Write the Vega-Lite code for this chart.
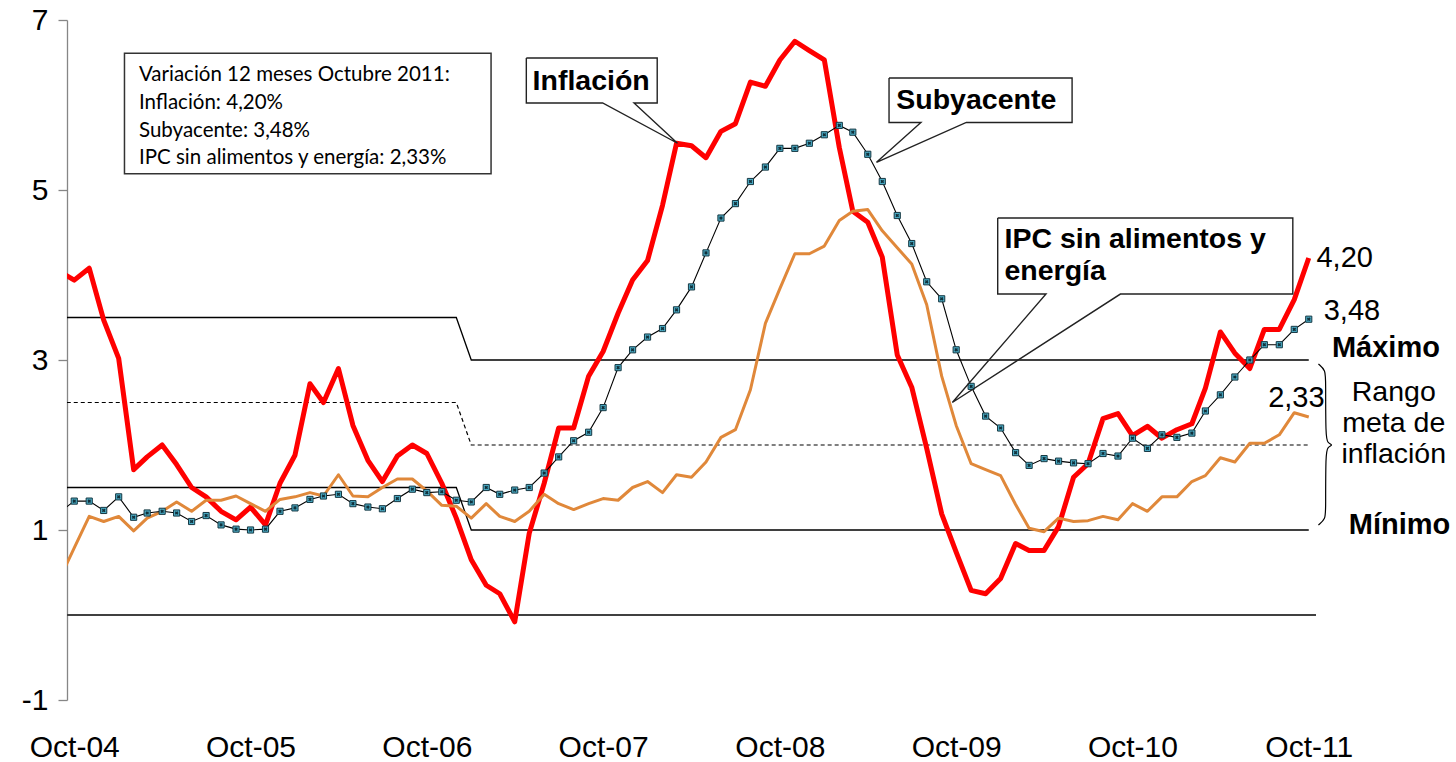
{
  "$schema": "https://vega.github.io/schema/vega-lite/v6.json",
  "width": 1249,
  "height": 680,
  "autosize": "none",
  "padding": {"left": 67, "top": 20, "right": 140, "bottom": 62},
  "background": "white",
  "config": {"view": {"stroke": null}, "axis": {"grid": false}},
  "datasets": {
    "serie": [
      {"fecha": "2004/09/01", "inf": 4.04, "sub": 1.21, "sae": 0.43},
      {"fecha": "2004/10/01", "inf": 3.94, "sub": 1.34, "sae": 0.79},
      {"fecha": "2004/11/01", "inf": 4.08, "sub": 1.34, "sae": 1.16},
      {"fecha": "2004/12/01", "inf": 3.47, "sub": 1.23, "sae": 1.10},
      {"fecha": "2005/01/01", "inf": 3.02, "sub": 1.39, "sae": 1.16},
      {"fecha": "2005/02/01", "inf": 1.71, "sub": 1.15, "sae": 0.99},
      {"fecha": "2005/03/01", "inf": 1.86, "sub": 1.20, "sae": 1.14},
      {"fecha": "2005/04/01", "inf": 2.00, "sub": 1.22, "sae": 1.22},
      {"fecha": "2005/05/01", "inf": 1.77, "sub": 1.20, "sae": 1.33},
      {"fecha": "2005/06/01", "inf": 1.50, "sub": 1.10, "sae": 1.22},
      {"fecha": "2005/07/01", "inf": 1.39, "sub": 1.17, "sae": 1.35},
      {"fecha": "2005/08/01", "inf": 1.22, "sub": 1.06, "sae": 1.35},
      {"fecha": "2005/09/01", "inf": 1.12, "sub": 1.01, "sae": 1.40},
      {"fecha": "2005/10/01", "inf": 1.27, "sub": 1.00, "sae": 1.31},
      {"fecha": "2005/11/01", "inf": 1.06, "sub": 1.01, "sae": 1.22},
      {"fecha": "2005/12/01", "inf": 1.55, "sub": 1.22, "sae": 1.36},
      {"fecha": "2006/01/01", "inf": 1.88, "sub": 1.26, "sae": 1.39},
      {"fecha": "2006/02/01", "inf": 2.72, "sub": 1.36, "sae": 1.44},
      {"fecha": "2006/03/01", "inf": 2.50, "sub": 1.40, "sae": 1.40},
      {"fecha": "2006/04/01", "inf": 2.90, "sub": 1.42, "sae": 1.65},
      {"fecha": "2006/05/01", "inf": 2.23, "sub": 1.31, "sae": 1.40},
      {"fecha": "2006/06/01", "inf": 1.82, "sub": 1.27, "sae": 1.39},
      {"fecha": "2006/07/01", "inf": 1.57, "sub": 1.25, "sae": 1.50},
      {"fecha": "2006/08/01", "inf": 1.87, "sub": 1.37, "sae": 1.60},
      {"fecha": "2006/09/01", "inf": 2.00, "sub": 1.48, "sae": 1.60},
      {"fecha": "2006/10/01", "inf": 1.90, "sub": 1.44, "sae": 1.46},
      {"fecha": "2006/11/01", "inf": 1.55, "sub": 1.45, "sae": 1.29},
      {"fecha": "2006/12/01", "inf": 1.14, "sub": 1.35, "sae": 1.28},
      {"fecha": "2007/01/01", "inf": 0.65, "sub": 1.33, "sae": 1.14},
      {"fecha": "2007/02/01", "inf": 0.35, "sub": 1.50, "sae": 1.31},
      {"fecha": "2007/03/01", "inf": 0.25, "sub": 1.42, "sae": 1.16},
      {"fecha": "2007/04/01", "inf": -0.08, "sub": 1.47, "sae": 1.10},
      {"fecha": "2007/05/01", "inf": 0.96, "sub": 1.50, "sae": 1.22},
      {"fecha": "2007/06/01", "inf": 1.55, "sub": 1.67, "sae": 1.42},
      {"fecha": "2007/07/01", "inf": 2.20, "sub": 1.86, "sae": 1.31},
      {"fecha": "2007/08/01", "inf": 2.20, "sub": 2.05, "sae": 1.24},
      {"fecha": "2007/09/01", "inf": 2.81, "sub": 2.15, "sae": 1.31},
      {"fecha": "2007/10/01", "inf": 3.10, "sub": 2.44, "sae": 1.37},
      {"fecha": "2007/11/01", "inf": 3.55, "sub": 2.91, "sae": 1.35},
      {"fecha": "2007/12/01", "inf": 3.94, "sub": 3.12, "sae": 1.50},
      {"fecha": "2008/01/01", "inf": 4.17, "sub": 3.27, "sae": 1.57},
      {"fecha": "2008/02/01", "inf": 4.82, "sub": 3.37, "sae": 1.44},
      {"fecha": "2008/03/01", "inf": 5.55, "sub": 3.59, "sae": 1.65},
      {"fecha": "2008/04/01", "inf": 5.52, "sub": 3.86, "sae": 1.62},
      {"fecha": "2008/05/01", "inf": 5.38, "sub": 4.26, "sae": 1.80},
      {"fecha": "2008/06/01", "inf": 5.69, "sub": 4.67, "sae": 2.09},
      {"fecha": "2008/07/01", "inf": 5.78, "sub": 4.84, "sae": 2.18},
      {"fecha": "2008/08/01", "inf": 6.27, "sub": 5.10, "sae": 2.65},
      {"fecha": "2008/09/01", "inf": 6.22, "sub": 5.27, "sae": 3.43},
      {"fecha": "2008/10/01", "inf": 6.53, "sub": 5.49, "sae": 3.84},
      {"fecha": "2008/11/01", "inf": 6.75, "sub": 5.49, "sae": 4.25},
      {"fecha": "2008/12/01", "inf": 6.64, "sub": 5.55, "sae": 4.25},
      {"fecha": "2009/01/01", "inf": 6.53, "sub": 5.65, "sae": 4.34},
      {"fecha": "2009/02/01", "inf": 5.50, "sub": 5.76, "sae": 4.64},
      {"fecha": "2009/03/01", "inf": 4.75, "sub": 5.68, "sae": 4.75},
      {"fecha": "2009/04/01", "inf": 4.62, "sub": 5.42, "sae": 4.77},
      {"fecha": "2009/05/01", "inf": 4.21, "sub": 5.10, "sae": 4.52},
      {"fecha": "2009/06/01", "inf": 3.06, "sub": 4.70, "sae": 4.32},
      {"fecha": "2009/07/01", "inf": 2.68, "sub": 4.37, "sae": 4.13},
      {"fecha": "2009/08/01", "inf": 1.96, "sub": 3.92, "sae": 3.65},
      {"fecha": "2009/09/01", "inf": 1.19, "sub": 3.72, "sae": 2.81},
      {"fecha": "2009/10/01", "inf": 0.74, "sub": 3.12, "sae": 2.23},
      {"fecha": "2009/11/01", "inf": 0.29, "sub": 2.69, "sae": 1.78},
      {"fecha": "2009/12/01", "inf": 0.25, "sub": 2.34, "sae": 1.71},
      {"fecha": "2010/01/01", "inf": 0.43, "sub": 2.20, "sae": 1.64},
      {"fecha": "2010/02/01", "inf": 0.84, "sub": 1.91, "sae": 1.30},
      {"fecha": "2010/03/01", "inf": 0.76, "sub": 1.76, "sae": 1.02},
      {"fecha": "2010/04/01", "inf": 0.76, "sub": 1.84, "sae": 0.98},
      {"fecha": "2010/05/01", "inf": 1.04, "sub": 1.81, "sae": 1.14},
      {"fecha": "2010/06/01", "inf": 1.62, "sub": 1.79, "sae": 1.10},
      {"fecha": "2010/07/01", "inf": 1.78, "sub": 1.78, "sae": 1.11},
      {"fecha": "2010/08/01", "inf": 2.31, "sub": 1.90, "sae": 1.16},
      {"fecha": "2010/09/01", "inf": 2.37, "sub": 1.87, "sae": 1.12},
      {"fecha": "2010/10/01", "inf": 2.11, "sub": 2.08, "sae": 1.31},
      {"fecha": "2010/11/01", "inf": 2.22, "sub": 1.96, "sae": 1.22},
      {"fecha": "2010/12/01", "inf": 2.08, "sub": 2.12, "sae": 1.39},
      {"fecha": "2011/01/01", "inf": 2.18, "sub": 2.09, "sae": 1.39},
      {"fecha": "2011/02/01", "inf": 2.25, "sub": 2.14, "sae": 1.57},
      {"fecha": "2011/03/01", "inf": 2.67, "sub": 2.40, "sae": 1.64},
      {"fecha": "2011/04/01", "inf": 3.33, "sub": 2.59, "sae": 1.85},
      {"fecha": "2011/05/01", "inf": 3.08, "sub": 2.80, "sae": 1.80},
      {"fecha": "2011/06/01", "inf": 2.90, "sub": 3.00, "sae": 2.02},
      {"fecha": "2011/07/01", "inf": 3.36, "sub": 3.18, "sae": 2.02},
      {"fecha": "2011/08/01", "inf": 3.36, "sub": 3.18, "sae": 2.12},
      {"fecha": "2011/09/01", "inf": 3.71, "sub": 3.36, "sae": 2.38},
      {"fecha": "2011/10/01", "inf": 4.20, "sub": 3.48, "sae": 2.33}
    ],
    "metas": [
      {"fecha": "2004/09/01", "maximo": 3.5, "meta": 2.5, "minimo": 1.5},
      {"fecha": "2006/12/01", "maximo": 3.5, "meta": 2.5, "minimo": 1.5},
      {"fecha": "2007/01/01", "maximo": 3.0, "meta": 2.0, "minimo": 1.0},
      {"fecha": "2011/10/01", "maximo": 3.0, "meta": 2.0, "minimo": 1.0}
    ],
    "leyenda": [
      {"x1": "2005/01/13", "x2": "2007/02/11", "y1": 6.61, "y2": 5.19}
    ],
    "cajas": [
      {"id": "inf", "x1": "2007/04/25", "x2": "2008/01/21", "y1": 6.553, "y2": 6.024},
      {"id": "sub", "x1": "2009/05/15", "x2": "2010/05/29", "y1": 6.318, "y2": 5.795},
      {"id": "sae", "x1": "2009/12/26", "x2": "2011/08/29", "y1": 4.671, "y2": 3.776}
    ],
    "contornos": [
      {"id": "inf", "k": 0, "fecha": "2007/04/25", "v": 6.553},
      {"id": "inf", "k": 1, "fecha": "2008/01/21", "v": 6.553},
      {"id": "inf", "k": 2, "fecha": "2008/01/21", "v": 6.024},
      {"id": "inf", "k": 3, "fecha": "2007/12/04", "v": 6.024},
      {"id": "inf", "k": 4, "fecha": "2008/03/03", "v": 5.55},
      {"id": "inf", "k": 5, "fecha": "2007/09/30", "v": 6.024},
      {"id": "inf", "k": 6, "fecha": "2007/04/25", "v": 6.024},
      {"id": "inf", "k": 7, "fecha": "2007/04/25", "v": 6.553},
      {"id": "sub", "k": 0, "fecha": "2009/05/15", "v": 6.318},
      {"id": "sub", "k": 1, "fecha": "2010/05/29", "v": 6.318},
      {"id": "sub", "k": 2, "fecha": "2010/05/29", "v": 5.795},
      {"id": "sub", "k": 3, "fecha": "2009/10/22", "v": 5.795},
      {"id": "sub", "k": 4, "fecha": "2009/04/19", "v": 5.326},
      {"id": "sub", "k": 5, "fecha": "2009/07/20", "v": 5.795},
      {"id": "sub", "k": 6, "fecha": "2009/05/15", "v": 5.795},
      {"id": "sub", "k": 7, "fecha": "2009/05/15", "v": 6.318},
      {"id": "sae", "k": 0, "fecha": "2009/12/26", "v": 4.671},
      {"id": "sae", "k": 1, "fecha": "2011/08/29", "v": 4.671},
      {"id": "sae", "k": 2, "fecha": "2011/08/29", "v": 3.776},
      {"id": "sae", "k": 3, "fecha": "2010/09/06", "v": 3.776},
      {"id": "sae", "k": 4, "fecha": "2009/09/23", "v": 2.50},
      {"id": "sae", "k": 5, "fecha": "2010/04/05", "v": 3.776},
      {"id": "sae", "k": 6, "fecha": "2009/12/26", "v": 3.776},
      {"id": "sae", "k": 7, "fecha": "2009/12/26", "v": 4.671}
    ],
    "txt_ley": [
      {"texto": "Variación 12 meses Octubre 2011:", "fecha": "2005/02/12", "v": 6.35},
      {"texto": "Inflación: 4,20%", "fecha": "2005/02/12", "v": 6.02},
      {"texto": "Subyacente: 3,48%", "fecha": "2005/02/12", "v": 5.69},
      {"texto": "IPC sin alimentos y energía: 2,33%", "fecha": "2005/02/12", "v": 5.38}
    ],
    "txt_call": [
      {"texto": "Inflación", "fecha": "2007/05/08", "v": 6.288},
      {"texto": "Subyacente", "fecha": "2009/05/30", "v": 6.059},
      {"texto": "IPC sin alimentos y", "fecha": "2010/01/09", "v": 4.424},
      {"texto": "energía", "fecha": "2010/01/09", "v": 4.047}
    ],
    "txt_val": [
      {"texto": "4,20", "fecha": "2011/10/17", "v": 4.2},
      {"texto": "3,48", "fecha": "2011/11/01", "v": 3.58},
      {"texto": "2,33", "fecha": "2011/07/09", "v": 2.553}
    ],
    "txt_rango": [
      {"texto": "Rango", "fecha": "2012/03/25", "v": 2.624},
      {"texto": "meta de", "fecha": "2012/03/25", "v": 2.259},
      {"texto": "inflación", "fecha": "2012/03/25", "v": 1.894}
    ],
    "txt_lim": [
      {"texto": "Máximo", "fecha": "2011/11/18", "v": 3.141},
      {"texto": "Mínimo", "fecha": "2011/12/23", "v": 1.059}
    ],
    "llave": [
      {"k": 0, "fecha": "2011/10/21", "v": 2.953},
      {"k": 1, "fecha": "2011/11/05", "v": 2.88},
      {"k": 2, "fecha": "2011/11/05", "v": 2.75},
      {"k": 3, "fecha": "2011/11/05", "v": 2.10},
      {"k": 4, "fecha": "2011/11/09", "v": 2.02},
      {"k": 5, "fecha": "2011/11/21", "v": 2.0},
      {"k": 6, "fecha": "2011/11/09", "v": 1.98},
      {"k": 7, "fecha": "2011/11/05", "v": 1.90},
      {"k": 8, "fecha": "2011/11/05", "v": 1.25},
      {"k": 9, "fecha": "2011/11/05", "v": 1.13},
      {"k": 10, "fecha": "2011/10/21", "v": 1.059}
    ]
  },
  "layer": [
    {
      "data": {"name": "metas"},
      "mark": {"type": "line", "color": "black", "strokeWidth": 1.3, "clip": true},
      "encoding": {
        "x": {
          "field": "fecha", "type": "temporal", "title": null,
          "scale": {"domain": [{"year": 2004, "month": 9, "date": 16}, {"year": 2011, "month": 10, "date": 16}]},
          "axis": {
            "values": [
              {"year": 2004, "month": 10, "date": 1}, {"year": 2005, "month": 10, "date": 1},
              {"year": 2006, "month": 10, "date": 1}, {"year": 2007, "month": 10, "date": 1},
              {"year": 2008, "month": 10, "date": 1}, {"year": 2009, "month": 10, "date": 1},
              {"year": 2010, "month": 10, "date": 1}, {"year": 2011, "month": 10, "date": 1}
            ],
            "format": "%b-%y", "domain": false, "ticks": false, "grid": false,
            "labelFont": "Liberation Sans", "labelFontSize": 30, "labelColor": "black",
            "labelPadding": 32, "labelFlush": false, "labelOverlap": false, "title": null
          }
        },
        "y": {
          "field": "maximo", "type": "quantitative", "title": null,
          "scale": {"domain": [-1, 7], "nice": false, "zero": false},
          "axis": {
            "values": [-1, 1, 3, 5, 7], "labelExpr": "'' + datum.value", "domain": true, "domainColor": "#868686", "domainWidth": 1.3,
            "ticks": true, "tickColor": "#868686", "tickSize": 9, "tickWidth": 1.3, "grid": false,
            "labelFont": "Liberation Sans", "labelFontSize": 30, "labelColor": "black",
            "labelPadding": 10, "title": null
          }
        }
      }
    },
    {
      "data": {"name": "metas"},
      "mark": {"type": "line", "color": "black", "strokeWidth": 1.2, "strokeDash": [4, 3], "clip": true},
      "encoding": {
        "x": {"field": "fecha", "type": "temporal", "title": null},
        "y": {"field": "meta", "type": "quantitative", "title": null}
      }
    },
    {
      "data": {"name": "metas"},
      "mark": {"type": "line", "color": "black", "strokeWidth": 1.3, "clip": true},
      "encoding": {
        "x": {"field": "fecha", "type": "temporal", "title": null},
        "y": {"field": "minimo", "type": "quantitative", "title": null}
      }
    },
    {
      "data": {"values": [{}]},
      "mark": {"type": "rule", "color": "#404040", "strokeWidth": 2.2},
      "encoding": {"y": {"datum": 0, "type": "quantitative", "title": null}}
    },
    {
      "data": {"name": "serie"},
      "mark": {"type": "line", "color": "#FF0000", "strokeWidth": 5, "strokeJoin": "round", "clip": true},
      "encoding": {
        "x": {"field": "fecha", "type": "temporal", "title": null},
        "y": {"field": "inf", "type": "quantitative", "title": null}
      }
    },
    {
      "data": {"name": "serie"},
      "mark": {"type": "line", "color": "#E0883A", "strokeWidth": 3, "strokeJoin": "round", "clip": true},
      "encoding": {
        "x": {"field": "fecha", "type": "temporal", "title": null},
        "y": {"field": "sae", "type": "quantitative", "title": null}
      }
    },
    {
      "data": {"name": "serie"},
      "mark": {"type": "line", "color": "black", "strokeWidth": 1.1, "clip": true},
      "encoding": {
        "x": {"field": "fecha", "type": "temporal", "title": null},
        "y": {"field": "sub", "type": "quantitative", "title": null}
      }
    },
    {
      "data": {"name": "serie"},
      "mark": {"type": "point", "shape": "square", "filled": true, "size": 38, "fill": "#4BACC6", "stroke": "#163843", "strokeWidth": 1, "opacity": 1, "clip": true},
      "encoding": {
        "x": {"field": "fecha", "type": "temporal", "title": null},
        "y": {"field": "sub", "type": "quantitative", "title": null}
      }
    },
    {
      "data": {"name": "serie"},
      "mark": {"type": "point", "shape": "cross", "angle": 45, "filled": true, "size": 14, "fill": "#10303a", "strokeWidth": 0, "opacity": 1, "clip": true},
      "encoding": {
        "x": {"field": "fecha", "type": "temporal", "title": null},
        "y": {"field": "sub", "type": "quantitative", "title": null}
      }
    },
    {
      "data": {"name": "leyenda"},
      "mark": {"type": "rect", "fill": "white", "stroke": "#333333", "strokeWidth": 1.5},
      "encoding": {
        "x": {"field": "x1", "type": "temporal", "title": null},
        "x2": {"field": "x2"},
        "y": {"field": "y1", "type": "quantitative", "title": null},
        "y2": {"field": "y2"}
      }
    },
    {
      "data": {"name": "txt_ley"},
      "mark": {"type": "text", "font": "Lato", "fontSize": 20.5, "align": "left", "baseline": "middle", "color": "black"},
      "encoding": {
        "x": {"field": "fecha", "type": "temporal", "title": null},
        "y": {"field": "v", "type": "quantitative", "title": null},
        "text": {"field": "texto"}
      }
    },
    {
      "data": {"name": "cajas"},
      "mark": {"type": "rect", "fill": "white", "strokeWidth": 0},
      "encoding": {
        "x": {"field": "x1", "type": "temporal", "title": null},
        "x2": {"field": "x2"},
        "y": {"field": "y1", "type": "quantitative", "title": null},
        "y2": {"field": "y2"}
      }
    },
    {
      "data": {"name": "contornos"},
      "mark": {"type": "line", "color": "#222222", "strokeWidth": 1.4},
      "encoding": {
        "x": {"field": "fecha", "type": "temporal", "title": null},
        "y": {"field": "v", "type": "quantitative", "title": null},
        "detail": {"field": "id"},
        "order": {"field": "k", "type": "quantitative"}
      }
    },
    {
      "data": {"name": "txt_call"},
      "mark": {"type": "text", "font": "Liberation Sans", "fontSize": 28.5, "fontWeight": "bold", "align": "left", "baseline": "middle", "color": "black"},
      "encoding": {
        "x": {"field": "fecha", "type": "temporal", "title": null},
        "y": {"field": "v", "type": "quantitative", "title": null},
        "text": {"field": "texto"}
      }
    },
    {
      "data": {"name": "txt_val"},
      "mark": {"type": "text", "font": "Liberation Sans", "fontSize": 29, "align": "left", "baseline": "middle", "color": "black"},
      "encoding": {
        "x": {"field": "fecha", "type": "temporal", "title": null},
        "y": {"field": "v", "type": "quantitative", "title": null},
        "text": {"field": "texto"}
      }
    },
    {
      "data": {"name": "txt_rango"},
      "mark": {"type": "text", "font": "Liberation Sans", "fontSize": 28.5, "align": "center", "baseline": "middle", "color": "black"},
      "encoding": {
        "x": {"field": "fecha", "type": "temporal", "title": null},
        "y": {"field": "v", "type": "quantitative", "title": null},
        "text": {"field": "texto"}
      }
    },
    {
      "data": {"name": "txt_lim"},
      "mark": {"type": "text", "font": "Liberation Sans", "fontSize": 29, "fontWeight": "bold", "align": "left", "baseline": "middle", "color": "black"},
      "encoding": {
        "x": {"field": "fecha", "type": "temporal", "title": null},
        "y": {"field": "v", "type": "quantitative", "title": null},
        "text": {"field": "texto"}
      }
    },
    {
      "data": {"name": "llave"},
      "mark": {"type": "line", "color": "black", "strokeWidth": 1.2, "interpolate": "basis"},
      "encoding": {
        "x": {"field": "fecha", "type": "temporal", "title": null},
        "y": {"field": "v", "type": "quantitative", "title": null},
        "order": {"field": "k", "type": "quantitative"}
      }
    }
  ]
}
